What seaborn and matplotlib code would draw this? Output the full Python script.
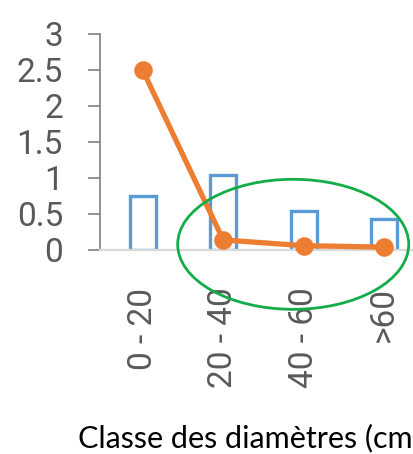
import matplotlib
matplotlib.use("Agg")
import matplotlib.pyplot as plt
from matplotlib.patches import Ellipse
import seaborn as sns

# Data
classes = ["0 - 20", "20 - 40", "40 - 60", ">60"]
bar_values = [0.75, 1.04, 0.54, 0.43]
line_values = [2.5, 0.14, 0.06, 0.04]
y_ticks = [0, 0.5, 1, 1.5, 2, 2.5, 3]
y_tick_labels = ["0", "0.5", "1", "1.5", "2", "2.5", "3"]
x_title = "Classe des diamètres (cm)"

sns.set_style("white")
plt.rcParams["font.family"] = ["Roboto", "DejaVu Sans"]

fig = plt.figure(figsize=(4.14, 4.54), dpi=100)
ax = fig.add_axes([100 / 414, 204 / 454, 322 / 414, 216 / 454])

sns.barplot(x=classes, y=bar_values, color="white", edgecolor="#5B9BD5",
            linewidth=2.4, width=0.32, saturation=1, ax=ax, zorder=1)
sns.pointplot(x=classes, y=line_values, color="#ED7D31", markers="o",
              linewidth=3.8, markersize=10.5, errorbar=None, ax=ax)
for ln in ax.lines:
    ln.set_zorder(4)
    ln.set_clip_on(False)

ax.set_xlim(-0.53, 3.47)
ax.set_ylim(0, 3)
ax.set_yticks(y_ticks)
ax.set_yticklabels(y_tick_labels)

for side in ("top", "right"):
    ax.spines[side].set_visible(False)
ax.spines["left"].set_color("#808080")
ax.spines["left"].set_linewidth(1.2)
ax.spines["bottom"].set_color("#d9d9d9")
ax.spines["bottom"].set_linewidth(1.6)
ax.spines["bottom"].set_zorder(3)

ax.tick_params(axis="y", direction="out", length=8.6, width=1.2,
               color="#808080", pad=18, labelsize=24, labelcolor="#595959",
               left=True)
ax.tick_params(axis="x", length=0, pad=27, labelsize=24,
               labelcolor="#595959", labelrotation=90)

ax.set_xlabel(x_title, fontsize=22, color="black", family=["Lato", "DejaVu Sans"],
              ha="left", va="baseline")
ax.xaxis.set_label_coords((78 - 100) / 322, (250 - 447) / 216)
ax.set_ylabel("")

# Highlight the small-diameter classes
ax.add_patch(Ellipse((1.87, 0.079), 2.87, 1.806, fill=False,
                     edgecolor="#12AD47", linewidth=2.0, clip_on=False, zorder=5))

fig.savefig("out.png", dpi=100)
